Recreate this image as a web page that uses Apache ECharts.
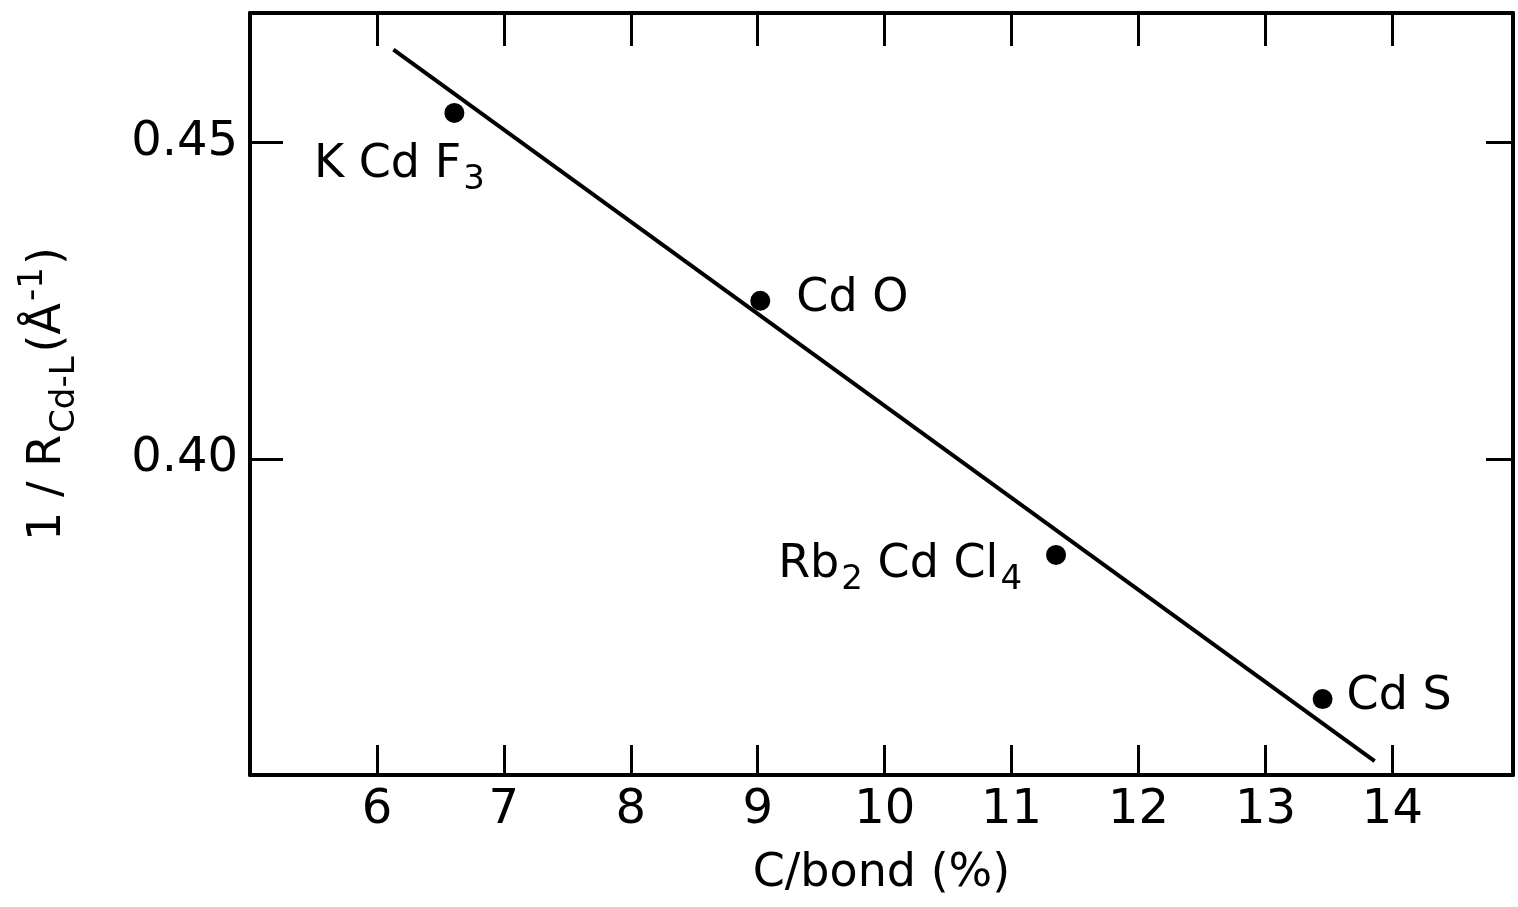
<!DOCTYPE html>
<html>
<head>
<meta charset="utf-8">
<script src="https://cdn.jsdelivr.net/npm/echarts@6/dist/echarts.min.js"></script>
<style>
html,body{margin:0;padding:0;background:#fff;}
#chart{width:1518px;height:907px;}
</style>
</head>
<body>
<div id="chart"></div>
<script>
// ---- data ----
var compounds = ['KCdF3', 'CdO', 'Rb2CdCl4', 'CdS'];
var compoundLabels = ['{m|K Cd F}{s|3}', '{m|Cd O}', '{m|Rb}{s|2}{m| Cd Cl}{s|4}', '{m|Cd S}'];
var covalency = [6.61, 9.02, 11.35, 13.45];      // C/bond (%)
var invDistance = [0.4547, 0.4250, 0.3848, 0.3620]; // 1/R (1/Å)
var fitLineX = [6.13, 13.86];
var fitLineY = [0.4647, 0.3522];
var xTickLabels = ['6', '7', '8', '9', '10', '11', '12', '13', '14'];
var yTickLabels = ['0.40', '0.45'];

// ---- label placement (styling) ----
var labelPlacement = {
  'KCdF3':   {position: 'bottom', distance: 10, offset: [-55, 0]},
  'CdO':     {position: 'right', distance: 26, offset: [0, -2]},
  'Rb2CdCl4':{position: 'left', distance: 24, offset: [0, 10]},
  'CdS':     {position: 'right', distance: 14, offset: [0, -2]}
};

var FONT = 'DejaVu Sans';
var rich = {
  m: {fontFamily: FONT, fontSize: 46, color: '#000'},
  s: {fontFamily: FONT, fontSize: 34, color: '#000', padding: [30, 0, 0, 2]}
};

var scatterData = compounds.map(function (c, i) {
  var p = labelPlacement[c];
  return {
    name: c,
    value: [covalency[i], invDistance[i]],
    label: {show: true, color: '#000', formatter: compoundLabels[i], position: p.position, distance: p.distance, offset: p.offset, rich: rich}
  };
});
var lineData = fitLineX.map(function (x, i) { return [x, fitLineY[i]]; });

var chart = echarts.init(document.getElementById('chart'), null, {renderer: 'canvas'});

function xAxisDef(pos, showLabel, tickLen) {
  return {
    type: 'value', position: pos, min: 5, max: 14.95, interval: 1,
    axisLine: {show: true, onZero: false, lineStyle: {color: '#000', width: 4}},
    axisTick: {show: true, inside: true, length: tickLen, lineStyle: {color: '#000', width: 3}},
    splitLine: {show: false},
    axisLabel: {
      show: showLabel, showMinLabel: false, showMaxLabel: false, margin: 12,
      fontFamily: FONT, fontSize: 48, color: '#000',
      formatter: function (v) { var s = String(Math.round(v)); return xTickLabels.indexOf(s) >= 0 ? s : ''; }
    }
  };
}
function yAxisDef(pos, showLabel, tickLen) {
  return {
    type: 'value', position: pos, min: 0.35, max: 0.4705, interval: 0.05,
    axisLine: {show: true, onZero: false, lineStyle: {color: '#000', width: 4}},
    axisTick: {show: true, inside: true, length: tickLen, lineStyle: {color: '#000', width: 3}},
    splitLine: {show: false},
    axisLabel: {
      show: showLabel, showMinLabel: false, showMaxLabel: false, margin: 12,
      fontFamily: FONT, fontSize: 48, color: '#000',
      formatter: function (v) { var s = v.toFixed(2); return yTickLabels.indexOf(s) >= 0 ? s : ''; }
    }
  };
}

var xa0 = xAxisDef('bottom', true, 30);
xa0.name = 'C/bond (%)';
xa0.nameLocation = 'middle';
xa0.nameGap = 76;
xa0.nameTextStyle = {fontFamily: FONT, fontSize: 46, color: '#000'};

var ya0 = yAxisDef('left', true, 33);
ya0.name = '{m|1 / R}{s|Cd-L}{m|(Å}{p|-1}{m|)}';
ya0.nameLocation = 'middle';
ya0.nameGap = 168;
ya0.nameRotate = 90;
ya0.nameTextStyle = {
  fontFamily: FONT, fontSize: 46, color: '#000',
  rich: {
    m: {fontFamily: FONT, fontSize: 46, color: '#000'},
    s: {fontFamily: FONT, fontSize: 34, color: '#000', padding: [34, 4, 0, 2]},
    p: {fontFamily: FONT, fontSize: 34, color: '#000', padding: [0, 2, 30, 2]}
  }
};

chart.setOption({
  backgroundColor: '#fff',
  animation: false,
  grid: {left: 250, right: 5, top: 13, bottom: 132, containLabel: false},
  xAxis: [xa0, xAxisDef('top', false, 33)],
  yAxis: [ya0, yAxisDef('right', false, 27)],
  series: [
    {
      type: 'line', xAxisIndex: 0, yAxisIndex: 0, data: lineData,
      showSymbol: false, symbol: 'none',
      lineStyle: {color: '#000', width: 4}
    },
    {
      type: 'scatter', xAxisIndex: 0, yAxisIndex: 0, data: scatterData,
      symbol: 'circle', symbolSize: 20,
      itemStyle: {color: '#000', opacity: 1}
    }
  ]
});
</script>
</body>
</html>
